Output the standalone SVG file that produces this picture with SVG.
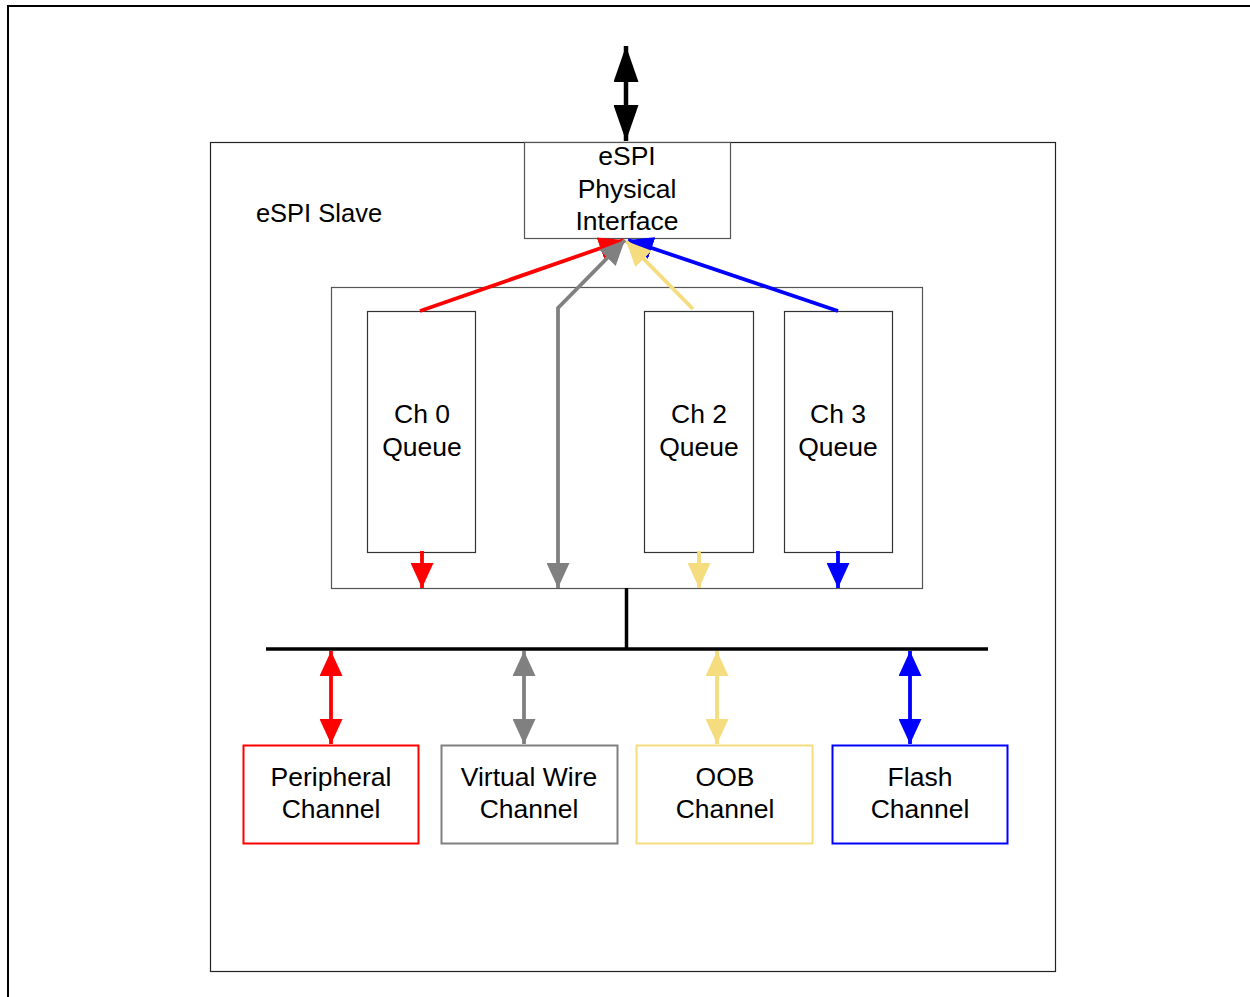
<svg xmlns="http://www.w3.org/2000/svg" width="1250" height="997" viewBox="0 0 1250 997">
<style>
  text { font-family: "Liberation Sans", Arial, sans-serif; font-size: 26.5px; fill: #000; text-anchor: middle; }
  .box { fill: #fff; stroke: #333; stroke-width: 1.2; }
  .ln { fill: none; stroke-width: 3.8; }
</style>
<defs>
  <marker id="hk" viewBox="0 0 10 10" preserveAspectRatio="none" refX="10" refY="5" markerUnits="userSpaceOnUse" markerWidth="36" markerHeight="25" orient="auto-start-reverse"><path d="M0,0 L10,5 L0,10 z" fill="#000"/></marker>
  <marker id="hr" viewBox="0 0 10 10" preserveAspectRatio="none" refX="10" refY="5" markerUnits="userSpaceOnUse" markerWidth="25" markerHeight="23" orient="auto-start-reverse"><path d="M0,0 L10,5 L0,10 z" fill="#FF0000"/></marker>
  <marker id="hg" viewBox="0 0 10 10" preserveAspectRatio="none" refX="10" refY="5" markerUnits="userSpaceOnUse" markerWidth="25" markerHeight="23" orient="auto-start-reverse"><path d="M0,0 L10,5 L0,10 z" fill="#808080"/></marker>
  <marker id="hy" viewBox="0 0 10 10" preserveAspectRatio="none" refX="10" refY="5" markerUnits="userSpaceOnUse" markerWidth="25" markerHeight="23" orient="auto-start-reverse"><path d="M0,0 L10,5 L0,10 z" fill="#F5DC7E"/></marker>
  <marker id="hb" viewBox="0 0 10 10" preserveAspectRatio="none" refX="10" refY="5" markerUnits="userSpaceOnUse" markerWidth="25" markerHeight="23" orient="auto-start-reverse"><path d="M0,0 L10,5 L0,10 z" fill="#0000FF"/></marker>
</defs>
<rect x="0" y="0" width="1250" height="997" fill="#fff"/>
<rect x="8" y="6" width="1260" height="1010" fill="none" stroke="#000" stroke-width="2"/>

<g id="slave">
  <rect x="210.5" y="142.5" width="845" height="829" fill="#fff" stroke="#222" stroke-width="1.2"/>
  <text x="319" y="222" style="font-size:25.5px">eSPI Slave</text>
</g>

<g id="queues">
  <rect x="331.5" y="287.5" width="591" height="301" class="box" style="stroke:#555"/>
</g>

<g id="phy">
  <rect x="524.5" y="142.5" width="206" height="96" class="box" style="stroke:#555"/>
  <text x="627" y="165">eSPI</text>
  <text x="627" y="198">Physical</text>
  <text x="627" y="230">Interface</text>
</g>

<g id="ch0q">
  <rect x="367.5" y="311.5" width="108" height="241" class="box"/>
  <text x="422" y="423">Ch 0</text>
  <text x="422" y="456">Queue</text>
</g>
<g id="ch2q">
  <rect x="644.5" y="311.5" width="109" height="241" class="box"/>
  <text x="699" y="423">Ch 2</text>
  <text x="699" y="456">Queue</text>
</g>
<g id="ch3q">
  <rect x="784.5" y="311.5" width="108" height="241" class="box"/>
  <text x="838" y="423">Ch 3</text>
  <text x="838" y="456">Queue</text>
</g>

<g id="periph">
  <rect x="243.5" y="745.5" width="175" height="98" fill="#fff" stroke="#FF0000" stroke-width="2"/>
  <text x="331" y="786">Peripheral</text>
  <text x="331" y="818">Channel</text>
</g>
<g id="vwire">
  <rect x="441.5" y="745.5" width="176" height="98" fill="#fff" stroke="#808080" stroke-width="2"/>
  <text x="529" y="786">Virtual Wire</text>
  <text x="529" y="818">Channel</text>
</g>
<g id="oob">
  <rect x="636.5" y="745.5" width="176" height="98" fill="#fff" stroke="#F5DC7E" stroke-width="2"/>
  <text x="725" y="786">OOB</text>
  <text x="725" y="818">Channel</text>
</g>
<g id="flash">
  <rect x="832.5" y="745.5" width="175" height="98" fill="#fff" stroke="#0000FF" stroke-width="2"/>
  <text x="920" y="786">Flash</text>
  <text x="920" y="818">Channel</text>
</g>

<g id="connectors">
  <line x1="626" y1="46" x2="626" y2="141" stroke="#000" stroke-width="4.5" marker-start="url(#hk)" marker-end="url(#hk)"/>
  <polyline class="ln" points="420,311 624,240" stroke="#FF0000" marker-end="url(#hr)"/>
  <polyline class="ln" points="838,311 628,240" stroke="#0000FF" marker-end="url(#hb)"/>
  <polyline class="ln" points="693,309 626,241" stroke="#F5DC7E" marker-end="url(#hy)"/>
  <polyline class="ln" points="558,588 558,308 625,240" stroke="#808080" marker-start="url(#hg)" marker-end="url(#hg)"/>
  <line class="ln" x1="422" y1="551" x2="422" y2="588" stroke="#FF0000" marker-end="url(#hr)"/>
  <line class="ln" x1="699" y1="551" x2="699" y2="588" stroke="#F5DC7E" marker-end="url(#hy)"/>
  <line class="ln" x1="838" y1="551" x2="838" y2="588" stroke="#0000FF" marker-end="url(#hb)"/>
  <line x1="626.5" y1="588" x2="626.5" y2="648" stroke="#000" stroke-width="3.5"/>
  <line x1="266" y1="649" x2="988" y2="649" stroke="#000" stroke-width="3.5"/>
  <line class="ln" x1="331" y1="651" x2="331" y2="744" stroke="#FF0000" marker-start="url(#hr)" marker-end="url(#hr)"/>
  <line class="ln" x1="524" y1="651" x2="524" y2="744" stroke="#808080" marker-start="url(#hg)" marker-end="url(#hg)"/>
  <line class="ln" x1="717" y1="651" x2="717" y2="744" stroke="#F5DC7E" marker-start="url(#hy)" marker-end="url(#hy)"/>
  <line class="ln" x1="910" y1="651" x2="910" y2="744" stroke="#0000FF" marker-start="url(#hb)" marker-end="url(#hb)"/>
</g>
</svg>
